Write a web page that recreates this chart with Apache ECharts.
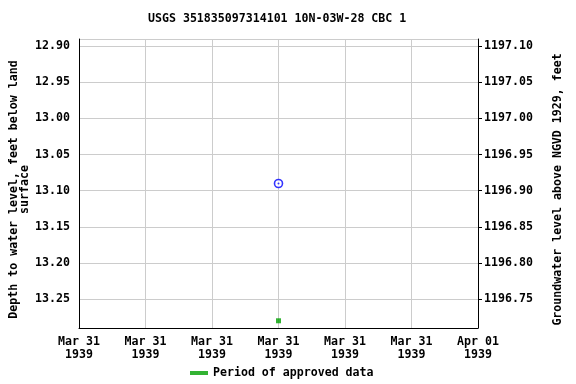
<!DOCTYPE html>
<html><head><meta charset="utf-8">
<script src="https://cdn.jsdelivr.net/npm/echarts@6/dist/echarts.min.js"></script>
<style>html,body{margin:0;padding:0;background:#fff}#c{width:576px;height:384px}</style>
</head><body><div id="c"></div>
<script>
const titleText = 'USGS 351835097314101 10N-03W-28 CBC 1';
const landSurface = 1210.00;
const xStart = Date.UTC(1939, 2, 31, 0, 0);
const xEnd = Date.UTC(1939, 3, 1, 0, 0);
const depthTimes = [Date.UTC(1939, 2, 31, 12, 0)];
const depthValues = [13.09];
const approvedTimes = [Date.UTC(1939, 2, 31, 12, 0)];
const approvedValues = [13.28];
const yMin = 12.89, yMax = 13.29;
const months = ['Jan','Feb','Mar','Apr','May','Jun','Jul','Aug','Sep','Oct','Nov','Dec'];
const font = 'DejaVu Sans Mono';
const fs = 11.6;
const chart = echarts.init(document.getElementById('c'), null, {renderer:'canvas'});
chart.setOption({
  animation:false,
  title:{text:titleText,left:148,top:13,padding:0,textStyle:{fontFamily:font,fontSize:fs,fontWeight:'bold',color:'#000'}},
  grid:{left:79,right:98,top:39,bottom:56,outerBoundsMode:'none',containLabel:false},
  legend:{bottom:0,left:185,itemWidth:18,itemHeight:4,itemGap:6,
    textStyle:{fontFamily:font,fontSize:fs,fontWeight:'bold',color:'#000'},
    data:[{name:'Period of approved data',icon:'rect',itemStyle:{color:'#00a000'}}]},
  xAxis:{type:'value',min:xStart,max:xEnd,interval:4*3600*1000,
    axisLine:{lineStyle:{color:'#000'}},axisTick:{show:false},
    splitLine:{show:true,lineStyle:{color:'#ccc'}},
    axisLabel:{fontFamily:font,fontSize:fs,fontWeight:'bold',color:'#000',margin:7,lineHeight:13,
      formatter:v=>{const d=new Date(v);return months[d.getUTCMonth()]+' '+String(d.getUTCDate()).padStart(2,'0')+'\n'+d.getUTCFullYear();}}},
  yAxis:[
    {type:'value',inverse:true,min:yMin,max:yMax,splitNumber:8,position:'left',
     name:'Depth to water level, feet below land\nsurface',nameLocation:'middle',nameGap:49,nameMoveOverlap:false,
     nameTextStyle:{fontFamily:font,fontSize:fs,fontWeight:'bold',color:'#000',lineHeight:11,padding:[0,12,0,0]},
     axisLine:{show:true,lineStyle:{color:'#000'}},axisTick:{show:false},
     splitLine:{show:true,lineStyle:{color:'#ccc'}},
     axisLabel:{fontFamily:font,fontSize:fs,fontWeight:'bold',color:'#000',margin:9,showMinLabel:false,showMaxLabel:false,
       formatter:v=>v.toFixed(2)}},
    {type:'value',min:+(landSurface-yMax).toFixed(2),max:+(landSurface-yMin).toFixed(2),splitNumber:8,position:'right',
     name:'Groundwater level above NGVD 1929, feet',nameLocation:'middle',nameGap:74,nameMoveOverlap:false,
     nameTextStyle:{fontFamily:font,fontSize:fs,fontWeight:'bold',color:'#000',padding:[0,12,0,0]},
     axisLine:{show:true,lineStyle:{color:'#000'}},axisTick:{show:true,length:4,lineStyle:{color:'#000'}},
     splitLine:{show:false},
     axisLabel:{fontFamily:font,fontSize:fs,fontWeight:'bold',color:'#000',margin:6,showMinLabel:false,showMaxLabel:false,
       formatter:v=>v.toFixed(2)}}
  ],
  series:[
    {type:'scatter',yAxisIndex:0,symbol:'circle',symbolSize:8,
     itemStyle:{color:'#fff',borderColor:'#0000ff',borderWidth:1.6},
     data:depthTimes.map((t,i)=>[t,depthValues[i]])},
    {type:'scatter',yAxisIndex:0,symbol:'circle',symbolSize:2,silent:true,
     itemStyle:{color:'#0000ff'},
     data:depthTimes.map((t,i)=>[t,depthValues[i]])},
    {name:'Period of approved data',type:'scatter',yAxisIndex:0,symbol:'rect',symbolSize:5,
     itemStyle:{color:'#00a000'},
     data:approvedTimes.map((t,i)=>[t,approvedValues[i]])}
  ]
});
</script></body></html>
